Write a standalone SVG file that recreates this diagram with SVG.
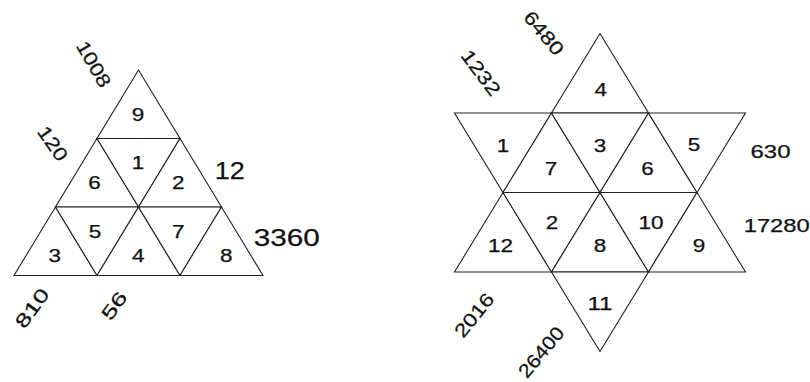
<svg xmlns="http://www.w3.org/2000/svg" width="810" height="382" viewBox="0 0 810 382">
<style>
.cell polygon{fill:#fff;stroke:#222;stroke-width:1.1;stroke-linejoin:miter}
text{font-family:"Liberation Sans",Arial,sans-serif;fill:#111;stroke:#111;stroke-width:0.25}
.n{font-size:18px;text-anchor:middle}
.o{font-size:19px;text-anchor:middle}
.b{font-size:24px;text-anchor:middle}
</style>
<rect width="810" height="382" fill="#fff"/>
<g id="triangle">
<g id="t9" class="cell"><polygon points="138.5,70 97,138.5 180,138.5"/><text class="n" x="138" y="120.5" textLength="12.5" lengthAdjust="spacingAndGlyphs">9</text></g>
<g id="t6" class="cell"><polygon points="97,138.5 55.5,207 138.5,207"/><text class="n" x="94.5" y="188.5" textLength="12.5" lengthAdjust="spacingAndGlyphs">6</text></g>
<g id="t1" class="cell"><polygon points="97,138.5 180,138.5 138.5,207"/><text class="n" x="138" y="169" textLength="12.5" lengthAdjust="spacingAndGlyphs">1</text></g>
<g id="t2" class="cell"><polygon points="180,138.5 138.5,207 221.5,207"/><text class="n" x="178.3" y="188.5" textLength="12.5" lengthAdjust="spacingAndGlyphs">2</text></g>
<g id="t3" class="cell"><polygon points="55.5,207 14,275.5 97,275.5"/><text class="n" x="54.7" y="262" textLength="12.5" lengthAdjust="spacingAndGlyphs">3</text></g>
<g id="t5" class="cell"><polygon points="55.5,207 138.5,207 97,275.5"/><text class="n" x="95" y="238" textLength="12.5" lengthAdjust="spacingAndGlyphs">5</text></g>
<g id="t4" class="cell"><polygon points="138.5,207 97,275.5 180,275.5"/><text class="n" x="138.2" y="262" textLength="12.5" lengthAdjust="spacingAndGlyphs">4</text></g>
<g id="t7" class="cell"><polygon points="138.5,207 221.5,207 180,275.5"/><text class="n" x="178.3" y="238" textLength="12.5" lengthAdjust="spacingAndGlyphs">7</text></g>
<g id="t8" class="cell"><polygon points="221.5,207 180,275.5 263,275.5"/><text class="n" x="226.2" y="262" textLength="12.5" lengthAdjust="spacingAndGlyphs">8</text></g>
<g id="triangle-labels">
<text class="o" transform="translate(94,64) rotate(60)" y="6.8" textLength="50" lengthAdjust="spacingAndGlyphs">1008</text>
<text class="o" transform="translate(53,143.5) rotate(55)" y="6.8" textLength="38" lengthAdjust="spacingAndGlyphs">120</text>
<text class="b" x="229.7" y="179.3" textLength="30" lengthAdjust="spacingAndGlyphs">12</text>
<text class="b" x="286.7" y="246" textLength="66" lengthAdjust="spacingAndGlyphs">3360</text>
<text class="o" transform="translate(32,308) rotate(-54)" y="6.8" textLength="44" lengthAdjust="spacingAndGlyphs">810</text>
<text class="o" transform="translate(114,305.5) rotate(-54)" y="6.8" textLength="30" lengthAdjust="spacingAndGlyphs">56</text>
</g>
</g>
<g id="star">
<g id="s4" class="cell"><polygon points="600,33.5 551.5,113 648.5,113"/><text class="n" x="600.8" y="96" textLength="12.5" lengthAdjust="spacingAndGlyphs">4</text></g>
<g id="s1" class="cell"><polygon points="454.5,113 551.5,113 503,192.5"/><text class="n" x="503" y="151.7" textLength="12.5" lengthAdjust="spacingAndGlyphs">1</text></g>
<g id="s7" class="cell"><polygon points="551.5,113 503,192.5 600,192.5"/><text class="n" x="551" y="175" textLength="12.5" lengthAdjust="spacingAndGlyphs">7</text></g>
<g id="s3" class="cell"><polygon points="551.5,113 648.5,113 600,192.5"/><text class="n" x="600" y="151.7" textLength="12.5" lengthAdjust="spacingAndGlyphs">3</text></g>
<g id="s6" class="cell"><polygon points="648.5,113 600,192.5 697,192.5"/><text class="n" x="647.5" y="175" textLength="12.5" lengthAdjust="spacingAndGlyphs">6</text></g>
<g id="s5" class="cell"><polygon points="648.5,113 745.5,113 697,192.5"/><text class="n" x="694" y="150.5" textLength="12.5" lengthAdjust="spacingAndGlyphs">5</text></g>
<g id="s12" class="cell"><polygon points="503,192.5 454.5,272 551.5,272"/><text class="n" x="500.5" y="251.7" textLength="25" lengthAdjust="spacingAndGlyphs">12</text></g>
<g id="s2" class="cell"><polygon points="503,192.5 600,192.5 551.5,272"/><text class="n" x="552" y="229" textLength="12.5" lengthAdjust="spacingAndGlyphs">2</text></g>
<g id="s8" class="cell"><polygon points="600,192.5 551.5,272 648.5,272"/><text class="n" x="600" y="251.7" textLength="12.5" lengthAdjust="spacingAndGlyphs">8</text></g>
<g id="s10" class="cell"><polygon points="600,192.5 697,192.5 648.5,272"/><text class="n" x="651" y="229" textLength="25" lengthAdjust="spacingAndGlyphs">10</text></g>
<g id="s9" class="cell"><polygon points="697,192.5 648.5,272 745.5,272"/><text class="n" x="699" y="251.7" textLength="12.5" lengthAdjust="spacingAndGlyphs">9</text></g>
<g id="s11" class="cell"><polygon points="551.5,272 648.5,272 600,351.5"/><text class="n" x="600" y="310" textLength="25" lengthAdjust="spacingAndGlyphs">11</text></g>
<g id="star-labels">
<text class="o" transform="translate(544,33) rotate(50)" y="6.8" textLength="51" lengthAdjust="spacingAndGlyphs">6480</text>
<text class="o" transform="translate(481,72.5) rotate(53)" y="6.8" textLength="52" lengthAdjust="spacingAndGlyphs">1232</text>
<text class="o" x="770.5" y="158.3" textLength="40" lengthAdjust="spacingAndGlyphs">630</text>
<text class="o" x="776.7" y="231.7" textLength="66" lengthAdjust="spacingAndGlyphs">17280</text>
<text class="o" transform="translate(474,315) rotate(-51)" y="6.8" textLength="51" lengthAdjust="spacingAndGlyphs">2016</text>
<text class="o" transform="translate(541,352) rotate(-50)" y="6.8" textLength="60" lengthAdjust="spacingAndGlyphs">26400</text>
</g>
</g>
</svg>
